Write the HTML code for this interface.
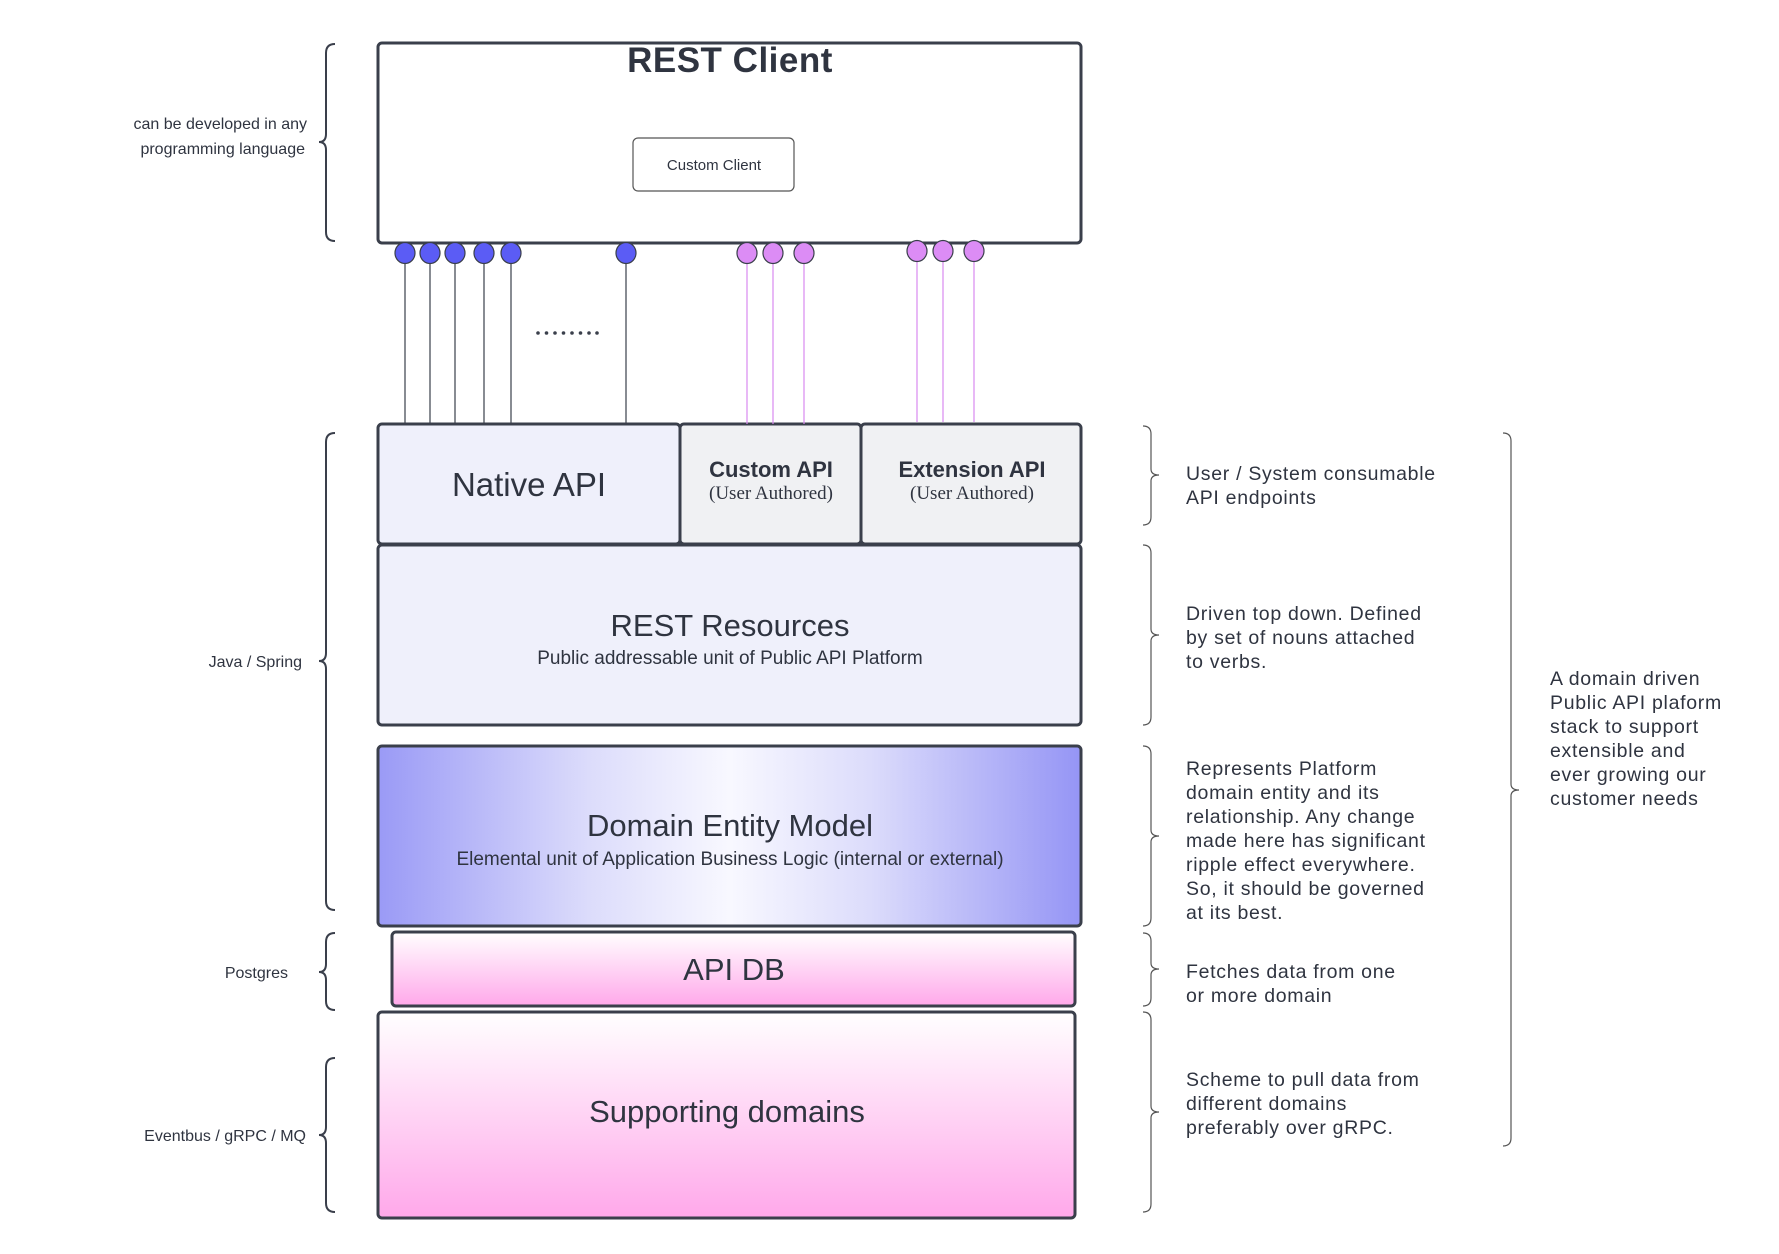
<!DOCTYPE html>
<html><head><meta charset="utf-8"><style>
html,body{margin:0;padding:0;background:#fff;}
svg{display:block;}
text{font-family:"Liberation Sans",sans-serif;fill:#2f3440;}
</style></head><body>
<svg width="1779" height="1254" viewBox="0 0 1779 1254" xmlns="http://www.w3.org/2000/svg">
<defs>
<linearGradient id="dem" x1="0" y1="0" x2="1" y2="0">
<stop offset="0" stop-color="#9a9af6"/><stop offset="0.3" stop-color="#dcdcfb"/><stop offset="0.5" stop-color="#f8f8ff"/><stop offset="0.7" stop-color="#dcdcfb"/><stop offset="1" stop-color="#9595f5"/>
</linearGradient>
<linearGradient id="pink" x1="0" y1="0" x2="0" y2="1">
<stop offset="0" stop-color="#ffffff"/><stop offset="1" stop-color="#ffa8ea"/>
</linearGradient>
</defs>
<g transform="translate(-2,-2)">
<g stroke="#3a3f4b" stroke-width="3" fill="none">
<rect x="380" y="45" width="703" height="200" rx="4" fill="#fff"/>
<rect x="635" y="140" width="161" height="53" rx="5" stroke-width="1.2" stroke="#555"/>
<rect x="380" y="426" width="302" height="120" rx="4" fill="#eff0fb"/>
<rect x="682" y="426" width="181" height="120" rx="4" fill="#f0f1f3"/>
<rect x="863" y="426" width="220" height="120" rx="4" fill="#f0f1f3"/>
<rect x="380" y="547" width="703" height="180" rx="4" fill="#eff0fb"/>
<rect x="380" y="748" width="703" height="180" rx="4" fill="url(#dem)"/>
<rect x="394" y="934" width="683" height="74" rx="4" fill="url(#pink)"/>
<rect x="380" y="1014" width="697" height="206" rx="4" fill="url(#pink)"/>
</g>
<g stroke="#3a3f4b" stroke-width="1.2">
<line x1="407" y1="255" x2="407" y2="426"/><line x1="432" y1="255" x2="432" y2="426"/>
<line x1="457" y1="255" x2="457" y2="426"/><line x1="486" y1="255" x2="486" y2="426"/>
<line x1="513" y1="255" x2="513" y2="426"/><line x1="628" y1="255" x2="628" y2="426"/>
</g>
<g stroke="#d98af0" stroke-width="1.2">
<line x1="749" y1="255" x2="749" y2="426"/><line x1="775" y1="255" x2="775" y2="426"/><line x1="806" y1="255" x2="806" y2="426"/>
<line x1="919" y1="253" x2="919" y2="424"/><line x1="945" y1="253" x2="945" y2="424"/><line x1="976" y1="253" x2="976" y2="424"/>
</g>
<g stroke="#3a3f4b" stroke-width="1.2" fill="#5b5cf5">
<ellipse cx="407" cy="255" rx="10" ry="10.5"/><ellipse cx="432" cy="255" rx="10" ry="10.5"/>
<ellipse cx="457" cy="255" rx="10" ry="10.5"/><ellipse cx="486" cy="255" rx="10" ry="10.5"/>
<ellipse cx="513" cy="255" rx="10" ry="10.5"/><ellipse cx="628" cy="255" rx="10" ry="10.5"/>
</g>
<g stroke="#3a3f4b" stroke-width="1.2" fill="#dc8cf5">
<ellipse cx="749" cy="255" rx="10" ry="10.5"/><ellipse cx="775" cy="255" rx="10" ry="10.5"/><ellipse cx="806" cy="255" rx="10" ry="10.5"/>
<ellipse cx="919" cy="253" rx="10" ry="10.5"/><ellipse cx="945" cy="253" rx="10" ry="10.5"/><ellipse cx="976" cy="253" rx="10" ry="10.5"/>
</g>
<g fill="#3a3f4b"><circle cx="540" cy="335" r="1.8"/><circle cx="548.5" cy="335" r="1.8"/><circle cx="557" cy="335" r="1.8"/><circle cx="565.5" cy="335" r="1.8"/><circle cx="574" cy="335" r="1.8"/><circle cx="582.5" cy="335" r="1.8"/><circle cx="591" cy="335" r="1.8"/><circle cx="599" cy="335" r="1.8"/></g>
<g stroke="#3a3f4b" stroke-width="2" fill="none">
<path d="M337 46 q-9 0 -9 9 V136 q0 8 -7 8 q7 0 7 8 V234 q0 9 9 9"/>
<path d="M337 435 q-9 0 -9 9 V655 q0 8 -7 8 q7 0 7 8 V903 q0 9 9 9"/>
<path d="M337 935 q-9 0 -9 9 V966 q0 8 -7 8 q7 0 7 8 V1003 q0 9 9 9"/>
<path d="M337 1060 q-9 0 -9 9 V1129 q0 8 -7 8 q7 0 7 8 V1205 q0 9 9 9"/>
</g>
<g stroke="#555" stroke-width="1.2" fill="none">
<path d="M1145 428 q8 0 8 8 V471 q0 6 8 6 q-8 0 -8 6 V519 q0 8 -8 8"/>
<path d="M1145 547 q8 0 8 8 V631 q0 6 8 6 q-8 0 -8 6 V719 q0 8 -8 8"/>
<path d="M1145 748 q8 0 8 8 V832 q0 6 8 6 q-8 0 -8 6 V920 q0 8 -8 8"/>
<path d="M1145 935 q8 0 8 8 V965 q0 6 8 6 q-8 0 -8 6 V1000 q0 8 -8 8"/>
<path d="M1145 1014 q8 0 8 8 V1108 q0 6 8 6 q-8 0 -8 6 V1206 q0 8 -8 8"/>
<path d="M1505 435 q8 0 8 8 V786 q0 6 8 6 q-8 0 -8 6 V1140 q0 8 -8 8"/>
</g>
<text x="732" y="74" font-size="35" text-anchor="middle" font-weight="bold" fill="#3a3f4b" letter-spacing="0.5">REST Client</text>
<text x="716" y="172" font-size="15" text-anchor="middle" fill="#333">Custom Client</text>
<text x="531" y="498" font-size="33" text-anchor="middle">Native API</text>
<text x="773" y="479" font-size="22" font-weight="bold" text-anchor="middle">Custom API</text>
<text x="773" y="501" font-size="19" text-anchor="middle" style="font-family:'Liberation Serif',serif">(User Authored)</text>
<text x="974" y="479" font-size="22" font-weight="bold" text-anchor="middle">Extension API</text>
<text x="974" y="501" font-size="19" text-anchor="middle" style="font-family:'Liberation Serif',serif">(User Authored)</text>
<text x="732" y="638" font-size="31" text-anchor="middle">REST Resources</text>
<text x="732" y="666" font-size="19" text-anchor="middle">Public addressable unit of Public API Platform</text>
<text x="732" y="838" font-size="31" text-anchor="middle">Domain Entity Model</text>
<text x="732" y="867" font-size="19" text-anchor="middle">Elemental unit of Application Business Logic (internal or external)</text>
<text x="736" y="982" font-size="31" text-anchor="middle">API DB</text>
<text x="729" y="1124" font-size="31" text-anchor="middle">Supporting domains</text>
<g font-size="16" text-anchor="end" fill="#333">
<text x="309" y="131">can be developed in any</text>
<text x="307" y="156">programming language</text>
<text x="304" y="669">Java / Spring</text>
<text x="290" y="980">Postgres</text>
<text x="308" y="1143">Eventbus / gRPC / MQ</text>
</g>
<g font-size="19.5" fill="#333" letter-spacing="0.7">
<text x="1188" y="482">User / System consumable</text>
<text x="1188" y="506">API endpoints</text>
<text x="1188" y="622">Driven top down. Defined</text>
<text x="1188" y="646">by set of nouns attached</text>
<text x="1188" y="670">to verbs.</text>
<text x="1188" y="777">Represents Platform</text>
<text x="1188" y="801">domain entity and its</text>
<text x="1188" y="825">relationship. Any change</text>
<text x="1188" y="849">made here has significant</text>
<text x="1188" y="873">ripple effect everywhere.</text>
<text x="1188" y="897">So, it should be governed</text>
<text x="1188" y="921">at its best.</text>
<text x="1188" y="980">Fetches data from one</text>
<text x="1188" y="1004">or more domain</text>
<text x="1188" y="1088">Scheme to pull data from</text>
<text x="1188" y="1112">different domains</text>
<text x="1188" y="1136">preferably over gRPC.</text>
<text x="1552" y="687">A domain driven</text>
<text x="1552" y="711">Public API plaform</text>
<text x="1552" y="735">stack to support</text>
<text x="1552" y="759">extensible and</text>
<text x="1552" y="783">ever growing our</text>
<text x="1552" y="807">customer needs</text>
</g>
</g>
</svg>
</body></html>
